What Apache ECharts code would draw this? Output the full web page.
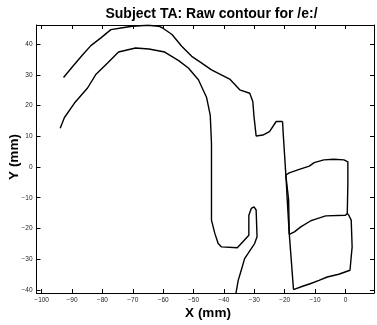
<!DOCTYPE html>
<html>
<head>
<meta charset="utf-8">
<script src="https://cdn.jsdelivr.net/npm/echarts@6/dist/echarts.min.js"></script>
<style>
html,body{margin:0;padding:0;background:#fff;}
#chart{width:377px;height:325px;}
</style>
</head>
<body>
<div id="chart"></div>
<script>
// Axis ticks / labels
const xTickValues = [-100, -90, -80, -70, -60, -50, -40, -30, -20, -10, 0];
const yTickValues = [-40, -30, -20, -10, 0, 10, 20, 30, 40];
const xRange = [-101.7, 9.4];
const yRange = [-41.0, 46.2];

// Contour pieces [x (mm), y (mm)]
const outerArch = [
  [-92.8,29.1],[-89.8,32.7],[-86.5,36.5],[-83.8,39.5],[-80.5,42.0],[-77.2,44.7],
  [-73.4,45.3],[-70.2,45.8],[-65.0,46.1],[-61.5,45.8],[-60.3,45.3],[-57.1,43.1],
  [-53.9,39.3],[-50.6,36.0],[-47.3,33.8],[-44.1,31.6],[-38.1,28.6],[-34.8,25.1],
  [-31.5,24.0],[-30.5,21.3],[-30.1,16.4],[-29.4,10.1],[-27.2,10.4],[-25.0,11.5],
  [-22.8,14.8],[-20.7,14.8]
];
const longLine = [
  [-20.7,14.8],[-20.5,11.1],[-19.6,-2.9],[-18.7,-10.8],[-18.5,-21.6],[-17.1,-39.9]
];
const lowerBox = [
  [-17.1,-39.9],[-14.1,-38.8],[-11.4,-37.9],[-8.7,-36.9],[-6.0,-35.8],[-2.2,-34.9],
  [1.5,-33.6],[1.9,-33.0],[2.2,-26.0],[1.9,-17.3],[1.1,-15.7],[0.6,-15.1]
];
const upperBox = [
  [0.6,-15.1],[0.8,-5.3],[0.8,1.7],[-0.5,2.3],[-3.8,2.5],[-7.1,2.3],[-10.3,1.4],
  [-11.9,0.3],[-15.2,-0.75],[-18.5,-1.9],[-19.6,-2.6],[-19.2,-10.0],[-18.5,-21.9]
];
const middleLine = [
  [-18.5,-21.9],[-16.8,-21.1],[-14.7,-19.5],[-11.4,-17.5],[-10.3,-17.1],[-6.5,-15.9],
  [0.0,-15.7],[0.6,-15.1]
];
const innerArch = [
  [-93.9,12.6],[-92.5,16.1],[-89.2,20.8],[-84.9,25.7],[-82.1,30.2],[-78.3,33.8],
  [-74.7,37.4],[-69.1,38.7],[-64.7,38.4],[-59.5,37.4],[-54.9,34.6],[-51.7,32.2],
  [-48.4,28.4],[-45.7,22.6],[-44.5,16.8],[-44.1,7.7],[-44.1,-5.3],[-44.1,-17.3],
  [-43.0,-21.6],[-41.9,-24.9],[-40.8,-26.0],[-35.6,-26.3],[-34.3,-24.9],[-31.8,-22.2],
  [-31.8,-15.7],[-31.0,-13.5],[-30.1,-13.0],[-29.4,-14.0],[-29.1,-22.7],[-29.9,-24.9],
  [-32.1,-28.2],[-33.2,-29.8],[-34.3,-33.6],[-35.3,-36.9],[-36.3,-42.5]
];
const pieces = [outerArch, longLine, lowerBox, upperBox, middleLine, innerArch];

const FONT = '"Liberation Sans", Arial, Helvetica, sans-serif';
const fmtX = v => xTickValues.some(t => Math.abs(t - v) < 1e-6) ? String(Math.round(v)).replace('-', '\u2212') : '';
const fmtY = v => yTickValues.some(t => Math.abs(t - v) < 1e-6) ? String(Math.round(v)).replace('-', '\u2212') : '';

function axisBase(range, fmt, show) {
  return {
    type: 'value', min: range[0], max: range[1], minInterval: 10, maxInterval: 10,
    axisLine: {show: true, onZero: false, lineStyle: {color: '#000', width: 1}},
    axisTick: {show: true, inside: true, length: 4, lineStyle: {color: '#000', width: 1}},
    axisLabel: {show: show, formatter: fmt, color: '#222', fontSize: 6.5, fontFamily: FONT, margin: 4},
    splitLine: {show: false}
  };
}

const chart = echarts.init(document.getElementById('chart'), null, {renderer: 'canvas'});
chart.setOption({
  animation: false,
  backgroundColor: '#fff',
  grid: {left: 36.5, right: 0, top: 25, bottom: 32, containLabel: false},
  xAxis: [
    Object.assign(axisBase(xRange, fmtX, true), {position: 'bottom'}),
    Object.assign(axisBase(xRange, fmtX, false), {position: 'top'})
  ],
  yAxis: [
    Object.assign(axisBase(yRange, fmtY, true), {position: 'left'}),
    Object.assign(axisBase(yRange, fmtY, false), {position: 'right'})
  ],
  series: pieces.map(p => ({
    type: 'line', data: p, showSymbol: false, symbol: 'none', clip: true,
    lineStyle: {color: '#000', width: 1.4}, silent: true
  })),
  graphic: [
    {type: 'text', x: 211.5, y: 14, style: {text: 'Subject TA: Raw contour for /e:/', fill: '#000',
      font: 'bold 14px ' + FONT, textAlign: 'center', textVerticalAlign: 'middle'}},
    {type: 'text', x: 208, y: 313, style: {text: 'X (mm)', fill: '#000',
      font: 'bold 13.5px ' + FONT, textAlign: 'center', textVerticalAlign: 'middle'}},
    {type: 'text', x: 14, y: 157, rotation: Math.PI / 2, style: {text: 'Y (mm)', fill: '#000',
      font: 'bold 13.5px ' + FONT, textAlign: 'center', textVerticalAlign: 'middle'}}
  ]
});
</script>
</body>
</html>
